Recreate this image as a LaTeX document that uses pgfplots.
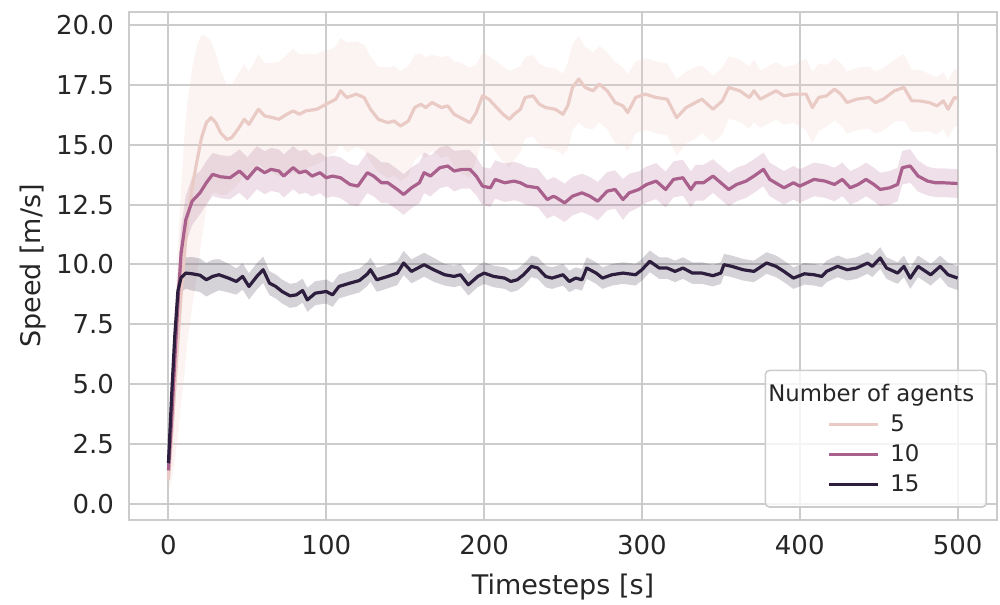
\documentclass[border=0pt]{standalone}
\usepackage{fontspec}
\setmainfont{DejaVu Sans}
\usepackage{pgfplots}
\pgfplotsset{compat=1.18}
\usepackage{pgfplotstable}
\usepgfplotslibrary{fillbetween}
\usetikzlibrary{calc}

\definecolor{cfive}{RGB}{234,202,196}
\definecolor{cten}{RGB}{170,96,140}
\definecolor{cfifteen}{RGB}{45,30,62}
\definecolor{gridc}{RGB}{204,204,204}
\definecolor{txt}{RGB}{38,38,38}

% columns: timestep, mean speed, half width of the band
\pgfplotstableread{
x m e
0 1.0 0.5
2 2.8 1.8
4 4.8 3.0
6 6.8 4.0
8 8.7 4.5
10 10.3 5.0
12 11.8 5.0
15 13.2 5.0
18 14.3 4.8
21 15.3 4.3
24 15.92 3.6
27 16.13 3.2
30 15.92 2.9
33 15.5 2.6
37 15.22 2.3
40 15.29 2.2
44 15.64 2.3
48 16.06 2.3
51 15.85 2.2
57 16.48 2.3
61 16.2 2.2
66 16.13 2.3
70 16.06 2.4
75 16.27 2.5
79 16.41 2.6
83 16.27 2.5
87 16.41 2.4
94 16.48 2.3
98 16.62 2.3
102 16.76 2.2
106 16.9 2.2
109 17.25 2.2
113 16.97 2.3
119 17.11 2.2
124 16.97 2.2
128 16.48 2.2
133 16.06 2.2
139 15.92 2.3
143 15.99 2.3
147 15.78 2.3
152 15.99 2.3
156 16.55 2.2
160 16.69 2.1
163 16.55 2.1
167 16.76 2.0
173 16.55 2.1
177 16.62 2.1
181 16.27 2.2
185 16.13 2.3
191 15.92 2.3
195 16.34 2.0
199 17.04 1.8
203 16.9 1.8
207 16.62 1.9
212 16.27 2.0
216 16.06 2.0
219 16.27 1.9
223 16.48 1.8
226 16.97 1.7
231 17.04 1.7
235 16.69 1.7
239 16.55 1.7
245 16.48 1.7
250 16.27 1.7
253 16.62 1.8
256 17.39 1.8
260 17.74 1.8
264 17.39 1.7
269 17.25 1.6
273 17.53 1.6
278 17.25 1.6
283 16.76 1.7
288 16.62 1.6
291 16.34 1.6
296 16.97 1.5
302 17.11 1.5
309 16.97 1.5
316 16.9 1.5
322 16.13 1.6
328 16.55 1.5
334 16.76 1.5
338 16.9 1.4
345 16.48 1.4
351 16.83 1.4
355 17.39 1.3
362 17.25 1.3
368 16.97 1.3
371 17.25 1.3
375 16.9 1.2
379 17.04 1.2
385 17.25 1.2
390 17.04 1.2
396 17.11 1.2
404 17.11 1.5
408 16.55 1.5
412 16.97 1.4
417 17.04 1.3
422 17.32 1.3
426 17.11 1.3
430 16.76 1.3
436 16.9 1.3
444 16.97 1.3
448 16.76 1.3
453 16.9 1.3
460 17.25 1.3
466 17.39 1.4
471 16.83 1.3
476 16.83 1.3
482 16.76 1.2
487 16.62 1.2
491 16.83 1.2
494 16.48 1.2
498 16.97 1.2
500 16.93 1.2
}\dfive

\pgfplotstableread{
x m e
0 1.4 0.2
2 3.5 0.8
4 6.0 1.0
6 8.4 1.1
8 10.47 1.1
11 11.87 1.0
15 12.64 1.0
20 12.99 0.9
24 13.41 0.9
28 13.76 0.9
33 13.66 0.9
39 13.62 0.9
45 13.9 0.9
50 13.58 0.9
56 14.04 0.9
61 13.83 0.9
65 13.97 0.9
70 13.9 0.9
73 13.69 0.9
79 14.04 0.9
83 13.83 0.9
87 13.9 0.9
91 13.69 0.85
96 13.83 0.85
100 13.62 0.85
104 13.69 0.85
109 13.62 0.85
115 13.34 0.85
120 13.27 0.85
126 13.83 0.85
130 13.69 0.85
135 13.41 0.85
139 13.41 0.85
145 13.13 0.85
149 12.92 0.85
154 13.2 0.85
159 13.41 0.85
162 13.83 0.85
166 13.69 0.85
172 14.04 0.85
177 14.11 0.85
181 13.9 0.85
186 13.97 0.8
191 13.97 0.8
195 13.69 0.8
199 13.27 0.8
204 13.2 0.8
207 13.55 0.8
213 13.41 0.8
219 13.48 0.8
223 13.41 0.8
227 13.27 0.8
234 13.2 0.8
240 12.71 0.8
244 12.85 0.8
246 12.78 0.8
251 12.57 0.8
256 12.85 0.8
262 12.99 0.8
267 12.85 0.8
272 12.64 0.8
278 13.06 0.8
283 13.13 0.8
288 12.71 0.85
292 12.99 0.8
298 13.13 0.75
303 13.34 0.75
309 13.48 0.75
315 13.13 0.75
320 13.55 0.75
326 13.62 0.75
331 13.13 0.75
334 13.41 0.75
339 13.41 0.75
345 13.69 0.7
350 13.41 0.7
355 13.13 0.7
360 13.34 0.7
366 13.48 0.7
371 13.69 0.7
377 13.97 0.7
381 13.55 0.7
390 13.2 0.7
396 13.41 0.7
400 13.27 0.7
409 13.55 0.7
416 13.48 0.7
422 13.34 0.7
427 13.55 0.7
432 13.2 0.7
437 13.34 0.7
442 13.55 0.7
447 13.34 0.7
451 13.13 0.7
457 13.2 0.7
462 13.34 0.7
465 14.04 0.7
470 14.11 0.7
475 13.69 0.65
481 13.48 0.6
486 13.41 0.6
491 13.41 0.6
500 13.38 0.6
}\dten

\pgfplotstableread{
x m e
0 1.7 0.2
2 4.5 0.6
4 7.0 0.6
6 8.9 0.6
8 9.45 0.6
11 9.64 0.65
15 9.61 0.7
20 9.55 0.7
24 9.36 0.7
28 9.5 0.7
32 9.57 0.65
38 9.43 0.6
43 9.29 0.55
47 9.5 0.55
51 9.08 0.55
56 9.5 0.55
60 9.78 0.55
64 9.22 0.5
68 9.08 0.5
72 8.87 0.5
77 8.69 0.5
81 8.73 0.5
85 8.91 0.5
88 8.52 0.5
93 8.8 0.5
100 8.87 0.5
104 8.73 0.5
108 9.08 0.5
115 9.22 0.5
121 9.33 0.5
126 9.6 0.5
128 9.78 0.5
132 9.36 0.5
139 9.5 0.5
145 9.64 0.5
149 10.06 0.5
154 9.71 0.5
158 9.85 0.5
162 9.99 0.5
168 9.78 0.5
175 9.57 0.45
181 9.5 0.45
185 9.57 0.45
190 9.15 0.45
196 9.5 0.45
200 9.64 0.45
206 9.5 0.45
213 9.43 0.45
217 9.29 0.45
221 9.36 0.45
225 9.57 0.45
230 9.92 0.45
234 9.85 0.45
239 9.5 0.45
243 9.43 0.45
250 9.57 0.45
254 9.29 0.45
258 9.43 0.45
262 9.36 0.45
265 9.85 0.45
271 9.64 0.45
275 9.43 0.45
281 9.57 0.45
288 9.64 0.45
296 9.57 0.45
300 9.78 0.45
305 10.13 0.45
311 9.85 0.45
316 9.85 0.45
321 9.71 0.45
326 9.85 0.45
332 9.64 0.45
338 9.64 0.45
345 9.53 0.45
350 9.64 0.45
352 9.99 0.45
357 9.92 0.45
364 9.78 0.45
371 9.71 0.45
379 10.06 0.45
385 9.92 0.45
390 9.71 0.45
396 9.43 0.45
403 9.61 0.45
409 9.57 0.45
414 9.5 0.45
417 9.71 0.45
424 9.92 0.45
430 9.78 0.45
436 9.85 0.45
443 10.06 0.45
446 9.92 0.45
451 10.27 0.45
455 9.85 0.45
462 9.64 0.45
466 9.92 0.45
470 9.43 0.45
475 9.92 0.45
483 9.57 0.45
489 9.92 0.45
494 9.57 0.5
500 9.43 0.5
}\dfifteen

\begin{document}
\begin{tikzpicture}
\begin{axis}[
    scale only axis,
    width=434pt, height=254pt,
    xmin=-25, xmax=525,
    ymin=-0.67, ymax=20.54,
    xtick={0,100,...,500},
    ytick={0,2.5,...,20},
    /pgf/number format/assume math mode=true,
    yticklabel style={/pgf/number format/fixed, /pgf/number format/fixed zerofill, /pgf/number format/precision=1, xshift=-4pt},
    xticklabel style={yshift=-4pt},
    grid=major,
    major grid style={gridc, line width=1pt},
    axis line style={gridc, line width=1.2pt},
    major tick length=0pt,
    tick label style={font=\fontsize{13}{15}\selectfont, text=txt},
    label style={font=\fontsize{13.5}{16}\selectfont, text=txt},
    xlabel={Timesteps [s]},
    ylabel={Speed [m/s]},
    xlabel style={yshift=-3pt},
    ylabel style={yshift=-2pt},
    legend cell align=left,
    legend style={
        at={(0.9885,0.024)}, anchor=south east,
        draw=gridc, line width=0.8pt, rounded corners=2pt,
        fill=white, fill opacity=0.8, text opacity=1,
        font=\fontsize{11.4}{13.5}\selectfont, text=txt,
        inner xsep=4pt, inner ysep=4.5pt,
        row sep=1pt,
    },
    legend image code/.code={
        \path[draw=none, fill=none] (-6pt,0pt) -- (50.5pt,0pt);
        \draw[#1, line width=1.6pt, rounded corners=0pt] (22pt,0pt) -- (46.5pt,0pt);
    },
]
% bands
\addplot[draw=none, name path=fiveU, forget plot] table[x=x, y expr=\thisrow{m}+\thisrow{e}] {\dfive};
\addplot[draw=none, name path=fiveL, forget plot] table[x=x, y expr=\thisrow{m}-\thisrow{e}] {\dfive};
\addplot[cfive, fill opacity=0.2, draw=none, forget plot] fill between[of=fiveU and fiveL];

\addplot[draw=none, name path=tenU, forget plot] table[x=x, y expr=\thisrow{m}+\thisrow{e}] {\dten};
\addplot[draw=none, name path=tenL, forget plot] table[x=x, y expr=\thisrow{m}-\thisrow{e}] {\dten};
\addplot[cten, fill opacity=0.2, draw=none, forget plot] fill between[of=tenU and tenL];

\addplot[draw=none, name path=fifU, forget plot] table[x=x, y expr=\thisrow{m}+\thisrow{e}] {\dfifteen};
\addplot[draw=none, name path=fifL, forget plot] table[x=x, y expr=\thisrow{m}-\thisrow{e}] {\dfifteen};
\addplot[cfifteen, fill opacity=0.2, draw=none, forget plot] fill between[of=fifU and fifL];

% legend title
\addlegendimage{empty legend}
\addlegendentry{\hspace*{-61pt}\rule[-6.7pt]{0pt}{15.9pt}Number of agents}

% mean lines
\addplot[cfive, line width=1.6pt, line join=round] table[x=x, y=m] {\dfive};
\addlegendentry{5}
\addplot[cten, line width=1.6pt, line join=round] table[x=x, y=m] {\dten};
\addlegendentry{10}
\addplot[cfifteen, line width=1.6pt, line join=round] table[x=x, y=m] {\dfifteen};
\addlegendentry{15}
\end{axis}
\pgfresetboundingbox
\useasboundingbox ($(current axis.south west)+(-64.5pt,-42pt)$) rectangle ($(current axis.north east)+(1.5pt,6pt)$);
\end{tikzpicture}
\end{document}
